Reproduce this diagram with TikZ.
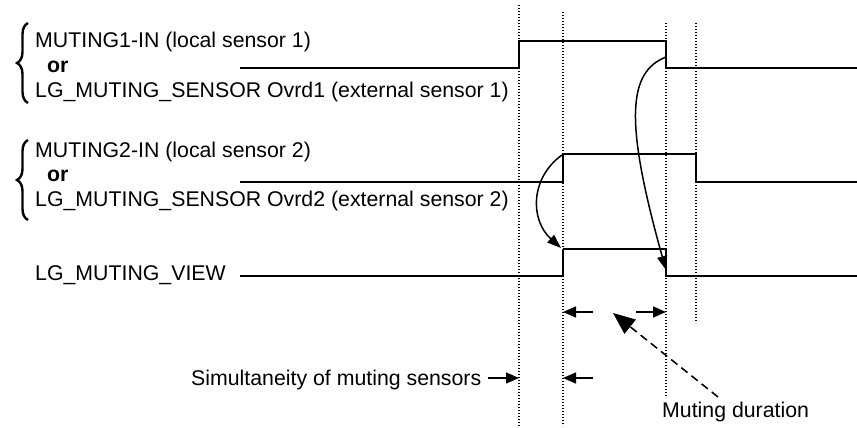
\documentclass[tikz,border=0pt]{standalone}
\usepackage{fontspec}
\setmainfont{Liberation Sans}
\usetikzlibrary{arrows.meta,decorations.pathreplacing}

\begin{document}
\begin{tikzpicture}[x=1pt,y=-1pt,
  signal/.style={line width=2.8pt, line join=miter},
  viewhigh/.style={line width=2.2pt},
  guide/.style={line width=1.2pt, dash pattern=on 1.2pt off 1.8pt},
  txt/.style={anchor=base west, inner sep=0pt, font=\fontsize{21.3}{24}\selectfont},
  ortxt/.style={anchor=base west, inner sep=0pt, font=\fontsize{21.3}{24}\selectfont\bfseries},
  curbrace/.style={decorate, decoration={brace, amplitude=11pt}, line width=2.4pt},
  causal/.style={line width=1.5pt, -{Triangle[length=14pt,width=10pt]}},
  span/.style={line width=1.5pt, -{Triangle[length=13pt,width=11pt]}},
  callout/.style={line width=1.5pt, dash pattern=on 8pt off 5pt, -{Triangle[length=22pt,width=18pt]}}
]
\useasboundingbox (0,0) rectangle (857,428);

% signal names
\draw[curbrace] (28,103) -- (28,23);
\node[txt]   (in1)  at (35,48)  {MUTING1-IN (local sensor 1)};
\node[ortxt] (or1)  at (47,72.5) {or};
\node[txt]   (ext1) at (35,97)  {LG\_MUTING\_SENSOR Ovrd1 (external sensor 1)};

\draw[curbrace] (28,220) -- (28,140);
\node[txt]   (in2)  at (35,157) {MUTING2-IN (local sensor 2)};
\node[ortxt] (or2)  at (47,181.5) {or};
\node[txt]   (ext2) at (35,206) {LG\_MUTING\_SENSOR Ovrd2 (external sensor 2)};

\node[txt] (view) at (35,280) {LG\_MUTING\_VIEW};

% dotted time markers
\draw[guide] (519,5)  -- (519,426);
\draw[guide] (563,12) -- (563,426);
\draw[guide] (666,23) -- (666,398);
\draw[guide] (696,23) -- (696,323);

% waveforms
\draw[signal] (240,68) -- (519,68) -- (519,41) -- (666,41) -- (666,68) -- (857,68);
\draw[signal] (240,182) -- (563,182) -- (563,154) -- (696,154) -- (696,182) -- (857,182);
\draw[signal] (240,276) -- (563,276) -- (563,249);
\draw[viewhigh] (563,249) -- (666,249);
\draw[signal] (666,249) -- (666,276) -- (857,276);

% cause and effect
\coordinate (s2rise) at (562,155);
\coordinate (vrise)  at (561,248);
\coordinate (s1fall) at (666,57);
\coordinate (vfall)  at (666,270);
\draw[causal] (s2rise) .. controls (530,178) and (530,220) .. (vrise);
\draw[causal] (s1fall) .. controls (628,72) and (624,120) .. (vfall);

% interval arrows
\coordinate (mdl) at (593,312);
\coordinate (mdlt) at (563,312);
\coordinate (mdr) at (636,312);
\coordinate (mdrt) at (666,312);
\draw[span] (mdl) -- (mdlt);
\draw[span] (mdr) -- (mdrt);

\node[txt] (simul) at (191,385) {Simultaneity of muting sensors};
\coordinate (sil) at (488,378);
\coordinate (silt) at (519,378);
\coordinate (sir) at (593,378);
\coordinate (sirt) at (563,378);
\draw[span] (sil) -- (silt);
\draw[span] (sir) -- (sirt);

\node[txt] (mdur) at (662,417) {Muting duration};
\coordinate (mdtail) at (718,397);
\coordinate (mdtip) at (613,313);
\draw[callout] (mdtail) -- (mdtip);
\end{tikzpicture}
\end{document}
